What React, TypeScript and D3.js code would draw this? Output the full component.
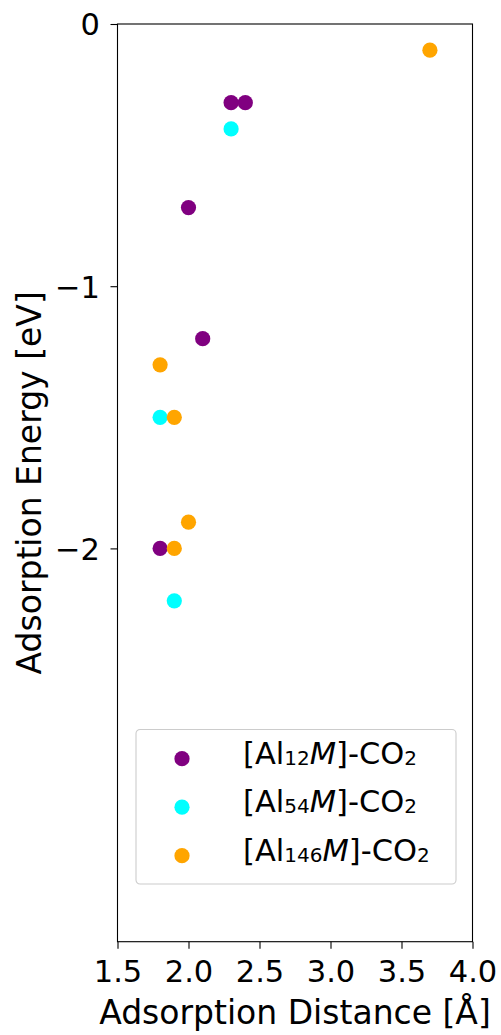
import React, { useEffect, useRef } from 'react';
import * as d3 from 'd3';

// Adsorption distance (Å) and energy (eV) per cluster size
const al12Dist = [2.3, 2.4, 2.0, 2.1, 1.8];
const al12Energy = [-0.3, -0.3, -0.7, -1.2, -2.0];
const al54Dist = [2.3, 1.8, 1.9];
const al54Energy = [-0.4, -1.5, -2.2];
const al146Dist = [3.7, 1.8, 1.9, 2.0, 1.9];
const al146Energy = [-0.1, -1.3, -1.5, -1.9, -2.0];

const seriesNames = ['12', '54', '146'];
const seriesColors = ['purple', 'cyan', 'orange'];
const xTicks = [1.5, 2.0, 2.5, 3.0, 3.5, 4.0];
const yTicks = [0, -1, -2];

const App: React.FC = () => {
    const svgRef = useRef<SVGSVGElement>(null);

    useEffect(() => {
        if (!svgRef.current) return;
        const width = 501;
        const height = 1035;
        const margin = { top: 24, right: 28.5, bottom: 93.3, left: 117.5 };
        const innerWidth = width - margin.left - margin.right;
        const innerHeight = height - margin.top - margin.bottom;
        const font = 'DejaVu Sans, sans-serif';
        const tickFs = 30.5;
        const labelFs = 33;
        const legendFs = 30.5;
        const subFs = 20;

        const svg = d3.select(svgRef.current);
        svg.selectAll('*').remove();
        svg.append('rect').attr('width', width).attr('height', height).attr('fill', '#fff');

        const g = svg.append('g').attr('transform', `translate(${margin.left},${margin.top})`);

        const xScale = d3.scaleLinear().domain([1.5, 4.0]).range([0, innerWidth]);
        const yScale = d3.scaleLinear().domain([-3.5, 0]).range([innerHeight, 0]);

        // Axes
        const xAxis = d3.axisBottom(xScale).tickValues(xTicks).tickSize(7)
            .tickFormat(d => d3.format('.1f')(d as number));
        const yAxis = d3.axisLeft(yScale).tickValues(yTicks).tickSize(7).tickPadding(10.5)
            .tickFormat(d => (d as number) < 0 ? `\u2212${Math.abs(d as number)}` : `${d}`);

        const gx = g.append('g').attr('transform', `translate(0,${innerHeight})`).call(xAxis);
        const gy = g.append('g').call(yAxis);
        [gx, gy].forEach(ax => {
            ax.select('.domain').remove();
            ax.selectAll('line').attr('stroke', '#000').attr('stroke-width', 1.1);
            ax.selectAll('text').attr('fill', '#000').style('font-family', font).style('font-size', `${tickFs}px`);
        });
        gy.selectAll('text').attr('dy', '0.36em');
        gx.selectAll('text').attr('y', 40.6).attr('dy', 0);

        // Frame
        g.append('rect')
            .attr('width', innerWidth)
            .attr('height', innerHeight)
            .attr('fill', 'none')
            .attr('stroke', '#000')
            .attr('stroke-width', 1.1);

        // Axis labels
        g.append('text')
            .attr('x', innerWidth / 2)
            .attr('y', innerHeight + 82.3)
            .attr('text-anchor', 'middle')
            .style('font-family', font)
            .style('font-size', `${labelFs}px`)
            .text('Adsorption Distance [Å]');

        g.append('text')
            .attr('transform', 'rotate(-90)')
            .attr('x', -innerHeight / 2)
            .attr('y', -76.5)
            .attr('text-anchor', 'middle')
            .style('font-family', font)
            .style('font-size', `${labelFs}px`)
            .text('Adsorption Energy [eV]');

        // Points
        const series = [
            { d: al12Dist, e: al12Energy },
            { d: al54Dist, e: al54Energy },
            { d: al146Dist, e: al146Energy },
        ];
        series.forEach((s, i) => {
            g.append('g').selectAll('circle')
                .data(s.d.map((x, j) => ({ x, y: s.e[j] })))
                .enter()
                .append('circle')
                .attr('cx', d => xScale(d.x))
                .attr('cy', d => yScale(d.y))
                .attr('r', 7.6)
                .attr('fill', seriesColors[i]);
        });

        // Legend
        const lg = svg.append('g').attr('transform', 'translate(136,729.5)');
        lg.append('rect')
            .attr('width', 320)
            .attr('height', 154.5)
            .attr('rx', 4)
            .attr('fill', '#fff')
            .attr('fill-opacity', 0.8)
            .attr('stroke', '#cccccc')
            .attr('stroke-width', 1.1);

        seriesNames.forEach((n, i) => {
            const cy = 29.2 + i * 48.5;
            lg.append('circle').attr('cx', 46).attr('cy', cy).attr('r', 7.6).attr('fill', seriesColors[i]);
            const t = lg.append('text')
                .attr('x', 107)
                .attr('y', cy + 5)
                .style('font-family', font)
                .style('font-size', `${legendFs}px`);
            t.append('tspan').text('[Al');
            t.append('tspan').attr('dy', 1).style('font-size', `${subFs}px`).text(n);
            t.append('tspan').attr('dy', -1).style('font-style', 'italic').text('M');
            t.append('tspan').text(']-CO');
            t.append('tspan').attr('dy', 1).style('font-size', `${subFs}px`).text('2');
        });
    }, []);

    return (
        <svg
            ref={svgRef}
            width={501}
            height={1035}
            viewBox="0 0 501 1035"
            style={{ position: 'absolute', left: 0, top: 0 }}
        />
    );
};

export default App;
